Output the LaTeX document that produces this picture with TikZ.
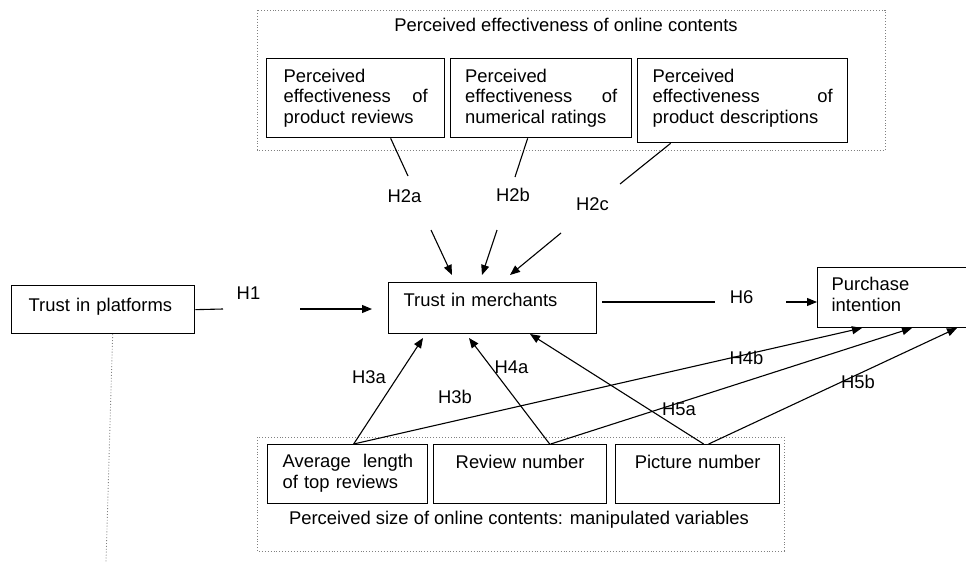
\documentclass[tikz,border=0pt]{standalone}
\usepackage{fontspec}
\setmainfont{Liberation Sans}
\usetikzlibrary{arrows.meta}
\newcommand{\diagfont}{\fontsize{18.4}{20.7}\selectfont}

\begin{document}
\begin{tikzpicture}[x=1pt, y=-1pt, font=\diagfont,
    box/.style={rectangle, draw, line width=1.3pt, anchor=north west, inner ysep=0pt, align=left},
    dotbox/.style={draw=gray, dotted, line width=0.9pt},
    hyp/.style={inner sep=0pt, text height=13.2pt, text depth=0pt},
    link/.style={line width=1.1pt},
    arrow/.style={-{Triangle[length=10pt,width=8pt]}, line width=1.1pt}
]
    \useasboundingbox (0,0) rectangle (966,562);
    \clip (0,0) rectangle (966,562);

    % groups
    \draw[dotbox] (257,10) rectangle (885,150);
    \draw[dotbox] (257,437) rectangle (784,551);
    \node[hyp] (toptitle) at (566,25) {Perceived effectiveness of online contents};
    \node[hyp] (bottitle) at (519,518) {Perceived size of online contents: manipulated variables};

    % constructs
    \node[box, inner xsep=17pt, text width=144pt, text height=23.5pt, text depth=55.5pt] (pe1) at (266,58)
        {Perceived\\effectiveness\hfill of\\product reviews};
    \node[box, inner xsep=14.5pt, text width=152pt, text height=23.5pt, text depth=55.5pt] (pe2) at (450,58)
        {Perceived\\effectiveness\hfill of\\numerical ratings};
    \node[box, inner xsep=15pt, text width=180pt, text height=23.5pt, text depth=60.5pt] (pe3) at (637,58)
        {Perceived\\effectiveness\hfill of\\product descriptions};
    \node[box, inner xsep=17pt, text width=149pt, text height=26pt, text depth=22pt] (plat) at (11,285)
        {Trust in platforms};
    \node[box, inner xsep=15pt, text width=178pt, text height=24pt, text depth=27pt] (merch) at (388,282)
        {Trust in merchants};
    \node[box, inner xsep=14pt, text width=150pt, text height=23pt, text depth=37pt] (purch) at (817,267)
        {Purchase\\intention};
    \node[box, inner xsep=15pt, text width=130pt, text height=23pt, text depth=36pt] (avg) at (267,444)
        {\mbox{Average\ \ length}\\of top reviews};
    \node[box, align=center, inner xsep=5pt, text width=163pt, text height=24pt, text depth=35pt] (revnum) at (433,444)
        {Review number};
    \node[box, align=center, inner xsep=5pt, text width=154pt, text height=24pt, text depth=35pt] (picnum) at (615,444)
        {Picture number};

    % hypothesis labels
    \node[hyp] (h1) at (248.5,293) {H1};
    \node[hyp] (h2a) at (404.5,196) {H2a};
    \node[hyp] (h2b) at (513,195) {H2b};
    \node[hyp] (h2c) at (592.5,204) {H2c};
    \node[hyp] (h6) at (741.5,297) {H6};
    \node[hyp] (h3a) at (369,377) {H3a};
    \node[hyp] (h3b) at (455,396.5) {H3b};
    \node[hyp] (h4a) at (511.5,367) {H4a};
    \node[hyp] (h4b) at (746.5,358) {H4b};
    \node[hyp] (h5a) at (679,409) {H5a};
    \node[hyp] (h5b) at (858,381.5) {H5b};

    % connector ends
    \coordinate (h1s) at (223,309);
    \coordinate (h1t) at (300,309);
    \coordinate (h1e) at (372,309);
    \coordinate (h2as) at (408,176);
    \coordinate (h2at) at (431,230);
    \coordinate (h2ae) at (452,275);
    \coordinate (h2bs) at (515,177);
    \coordinate (h2bt) at (497,230);
    \coordinate (h2be) at (482,275);
    \coordinate (h2cs) at (620,184);
    \coordinate (h2ct) at (561,233);
    \coordinate (h2ce) at (510,275);
    \coordinate (h6o) at (602,302);
    \coordinate (h6s) at (715,302);
    \coordinate (h6t) at (786,302);
    \coordinate (h6e) at (817,302);
    \coordinate (h3ae) at (423,338);
    \coordinate (h4ae) at (469,338);
    \coordinate (h5ae) at (530,334);
    \coordinate (h3be) at (862,328);
    \coordinate (h4be) at (912,328);
    \coordinate (h5be) at (957,328);
    \coordinate (platend) at (106,562);

    % paths
    \draw[link] (plat.east) -- (h1s);
    \draw[arrow] (h1t) -- (h1e);
    \draw[link] ([xshift=35pt]pe1.south) -- (h2as);
    \draw[arrow] (h2at) -- (h2ae);
    \draw[link] ([xshift=-13.5pt]pe2.south) -- (h2bs);
    \draw[arrow] (h2bt) -- (h2be);
    \draw[link] ([xshift=-72pt]pe3.south) -- (h2cs);
    \draw[arrow] (h2ct) -- (h2ce);
    \draw[link] (h6o) -- (h6s);
    \draw[arrow] (h6t) -- (h6e);
    \draw[arrow] ([xshift=6pt]avg.north) -- (h3ae);
    \draw[arrow] ([xshift=6pt]avg.north) -- (h3be);
    \draw[arrow] ([xshift=29.5pt]revnum.north) -- (h4ae);
    \draw[arrow] ([xshift=30.5pt]revnum.north) -- (h4be);
    \draw[arrow] ([xshift=6pt]picnum.north) -- (h5ae);
    \draw[arrow] ([xshift=11pt]picnum.north) -- (h5be);
    \draw[dotbox] ([xshift=9.5pt]plat.south) -- (platend);
\end{tikzpicture}
\end{document}
